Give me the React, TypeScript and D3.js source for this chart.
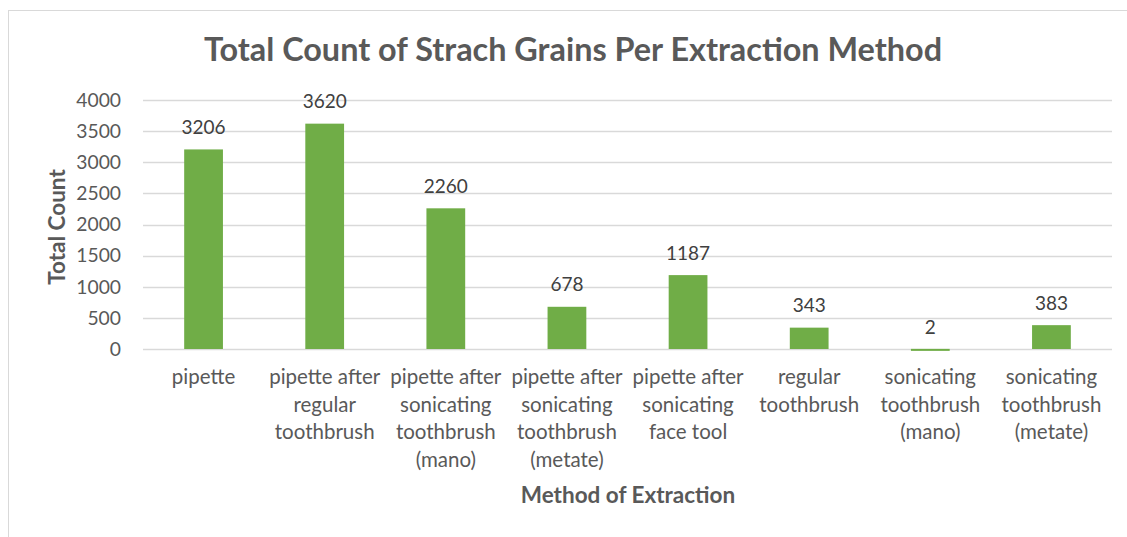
import { useEffect, useRef } from "react";
import * as d3 from "d3";

const categories = [
  "pipette",
  "pipette after|regular|toothbrush",
  "pipette after|sonicating|toothbrush|(mano)",
  "pipette after|sonicating|toothbrush|(metate)",
  "pipette after|sonicating|face tool",
  "regular|toothbrush",
  "sonicating|toothbrush|(mano)",
  "sonicating|toothbrush|(metate)",
];
const counts = [3206, 3620, 2260, 678, 1187, 343, 2, 383];
const yTicks = [0, 500, 1000, 1500, 2000, 2500, 3000, 3500, 4000];

const W = 1127;
const H = 537;
const FONT = "Lato, 'Liberation Sans', sans-serif";
const TEXT = "#595959";

export default function App() {
  const svgRef = useRef<SVGSVGElement>(null);

  useEffect(() => {
    if (!svgRef.current) return;
    const svg = d3.select(svgRef.current);
    svg.selectAll("*").remove();

    const margin = { top: 100, right: 15, bottom: 188, left: 143 };

    // chart frame
    svg
      .append("rect")
      .attr("x", 8.5)
      .attr("y", 10.5)
      .attr("width", W + 10)
      .attr("height", H + 10)
      .attr("fill", "#fff")
      .attr("stroke", "#d9d9d9");

    const x = d3
      .scaleBand()
      .domain(categories)
      .range([margin.left, W - margin.right])
      .paddingInner(0.68)
      .paddingOuter(0.34);

    const y = d3
      .scaleLinear()
      .domain([0, 4000])
      .range([H - margin.bottom, margin.top]);

    // grid lines
    svg
      .append("g")
      .selectAll("line")
      .data(yTicks)
      .join("line")
      .attr("x1", margin.left)
      .attr("x2", W - margin.right)
      .attr("y1", (d) => Math.round(y(d)) + 0.5)
      .attr("y2", (d) => Math.round(y(d)) + 0.5)
      .attr("stroke", "#d9d9d9")
      .attr("stroke-width", 1.5);

    // y tick labels
    svg
      .append("g")
      .selectAll("text")
      .data(yTicks)
      .join("text")
      .attr("x", 121)
      .attr("y", (d) => y(d))
      .attr("dy", "0.35em")
      .attr("text-anchor", "end")
      .attr("font-family", FONT)
      .attr("font-size", 19.3)
      .attr("fill", TEXT)
      .text((d) => d);

    // bars
    svg
      .append("g")
      .selectAll("rect")
      .data(counts)
      .join("rect")
      .attr("x", (_, i) => x(categories[i])!)
      .attr("y", (d) => y(d))
      .attr("width", x.bandwidth())
      .attr("height", (d) => Math.max(y(0) - y(d), 2))
      .attr("fill", "#70ad47");

    // value labels
    svg
      .append("g")
      .selectAll("text")
      .data(counts)
      .join("text")
      .attr("x", (_, i) => x(categories[i])! + x.bandwidth() / 2)
      .attr("y", (d) => y(d) - 22)
      .attr("dy", "0.35em")
      .attr("text-anchor", "middle")
      .attr("font-family", FONT)
      .attr("font-size", 19)
      .attr("fill", "#404040")
      .text((d) => d);

    // category labels
    const cat = svg
      .append("g")
      .selectAll("text")
      .data(categories)
      .join("text")
      .attr("x", (d) => x(d)! + x.bandwidth() / 2)
      .attr("y", 377)
      .attr("text-anchor", "middle")
      .attr("font-family", FONT)
      .attr("font-size", 20.5)
      .attr("fill", TEXT);
    cat
      .selectAll("tspan")
      .data((d) => d.split("|"))
      .join("tspan")
      .attr("x", function () {
        return (this.parentNode as SVGTextElement).getAttribute("x");
      })
      .attr("dy", (_, i) => (i === 0 ? "0.35em" : "27.5"))
      .text((d) => d);

    // title
    svg
      .append("text")
      .attr("x", 573)
      .attr("y", 50)
      .attr("dy", "0.35em")
      .attr("text-anchor", "middle")
      .attr("font-family", FONT)
      .attr("font-weight", "bold")
      .attr("font-size", 32.4)
      .attr("fill", TEXT)
      .text("Total Count of Strach Grains Per Extraction Method");

    // axis titles
    svg
      .append("text")
      .attr("x", 628)
      .attr("y", 495)
      .attr("dy", "0.35em")
      .attr("text-anchor", "middle")
      .attr("font-family", FONT)
      .attr("font-weight", "bold")
      .attr("font-size", 22.5)
      .attr("fill", TEXT)
      .text("Method of Extraction");

    svg
      .append("text")
      .attr("transform", "translate(57,227) rotate(-90)")
      .attr("dy", "0.35em")
      .attr("text-anchor", "middle")
      .attr("font-family", FONT)
      .attr("font-weight", "bold")
      .attr("font-size", 22.5)
      .attr("fill", TEXT)
      .text("Total Count");
  }, []);

  return (
    <svg
      ref={svgRef}
      width={W}
      height={H}
      style={{ position: "absolute", left: 0, top: 0, background: "#fff" }}
    />
  );
}
